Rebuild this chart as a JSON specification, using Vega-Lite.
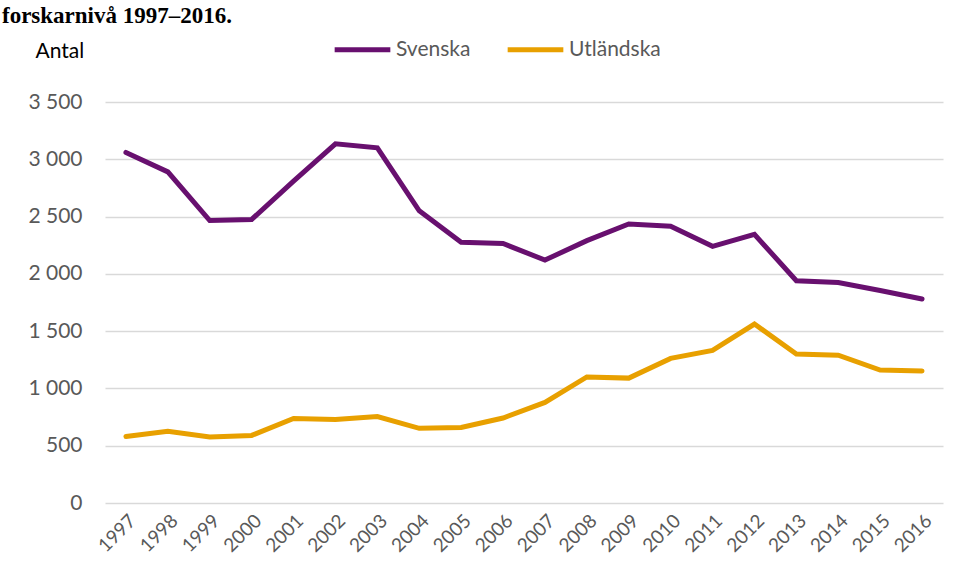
{
  "$schema": "https://vega.github.io/schema/vega-lite/v6.json",
  "width": 838,
  "height": 401,
  "autosize": {"type": "none"},
  "padding": {"left": 105, "top": 102, "right": 17, "bottom": 80},
  "background": "white",
  "title": {
    "text": "forskarnivå 1997–2016.",
    "anchor": "start",
    "frame": "group",
    "font": "Liberation Serif",
    "fontSize": 23,
    "fontWeight": "bold",
    "color": "black",
    "dx": -103,
    "dy": 27,
    "offset": 0,
    "baseline": "alphabetic"
  },
  "data": {
    "values": [
      {"year": "1997", "serie": "Svenska", "antal": 3060},
      {"year": "1998", "serie": "Svenska", "antal": 2890},
      {"year": "1999", "serie": "Svenska", "antal": 2465},
      {"year": "2000", "serie": "Svenska", "antal": 2475},
      {"year": "2001", "serie": "Svenska", "antal": 2810},
      {"year": "2002", "serie": "Svenska", "antal": 3135},
      {"year": "2003", "serie": "Svenska", "antal": 3100},
      {"year": "2004", "serie": "Svenska", "antal": 2550},
      {"year": "2005", "serie": "Svenska", "antal": 2275},
      {"year": "2006", "serie": "Svenska", "antal": 2265},
      {"year": "2007", "serie": "Svenska", "antal": 2120},
      {"year": "2008", "serie": "Svenska", "antal": 2290},
      {"year": "2009", "serie": "Svenska", "antal": 2435},
      {"year": "2010", "serie": "Svenska", "antal": 2415},
      {"year": "2011", "serie": "Svenska", "antal": 2240},
      {"year": "2012", "serie": "Svenska", "antal": 2345},
      {"year": "2013", "serie": "Svenska", "antal": 1940},
      {"year": "2014", "serie": "Svenska", "antal": 1925},
      {"year": "2015", "serie": "Svenska", "antal": 1855},
      {"year": "2016", "serie": "Svenska", "antal": 1780},
      {"year": "1997", "serie": "Utländska", "antal": 580},
      {"year": "1998", "serie": "Utländska", "antal": 625},
      {"year": "1999", "serie": "Utländska", "antal": 576},
      {"year": "2000", "serie": "Utländska", "antal": 590},
      {"year": "2001", "serie": "Utländska", "antal": 738},
      {"year": "2002", "serie": "Utländska", "antal": 728},
      {"year": "2003", "serie": "Utländska", "antal": 755},
      {"year": "2004", "serie": "Utländska", "antal": 652},
      {"year": "2005", "serie": "Utländska", "antal": 660},
      {"year": "2006", "serie": "Utländska", "antal": 742},
      {"year": "2007", "serie": "Utländska", "antal": 878},
      {"year": "2008", "serie": "Utländska", "antal": 1100},
      {"year": "2009", "serie": "Utländska", "antal": 1090},
      {"year": "2010", "serie": "Utländska", "antal": 1262},
      {"year": "2011", "serie": "Utländska", "antal": 1332},
      {"year": "2012", "serie": "Utländska", "antal": 1562},
      {"year": "2013", "serie": "Utländska", "antal": 1300},
      {"year": "2014", "serie": "Utländska", "antal": 1290},
      {"year": "2015", "serie": "Utländska", "antal": 1160},
      {"year": "2016", "serie": "Utländska", "antal": 1152}
    ]
  },
  "mark": {"type": "line", "strokeWidth": 5, "strokeCap": "round", "strokeJoin": "miter"},
  "encoding": {
    "x": {
      "field": "year",
      "type": "ordinal",
      "scale": {"type": "point", "padding": 0.5},
      "axis": {
        "title": null,
        "labelAngle": -45,
        "labelFont": "Lato",
        "labelFontSize": 19,
        "labelColor": "#595959",
        "ticks": false,
        "domain": false,
        "grid": false,
        "labelPadding": 8
      }
    },
    "y": {
      "field": "antal",
      "type": "quantitative",
      "scale": {"domain": [0, 3500], "nice": false},
      "axis": {
        "values": [0, 500, 1000, 1500, 2000, 2500, 3000, 3500],
        "format": ",d",
        "labelExpr": "replace(datum.label, ',', ' ')",
        "title": "Antal",
        "titleAngle": 0,
        "titleAlign": "left",
        "titleBaseline": "alphabetic",
        "titleX": -70,
        "titleY": -45,
        "titleFont": "Lato",
        "titleFontSize": 21,
        "titleFontWeight": "normal",
        "titleColor": "#000000",
        "labelFont": "Lato",
        "labelFontSize": 21,
        "labelColor": "#595959",
        "labelPadding": 23,
        "ticks": false,
        "domain": false,
        "gridColor": "#D9D9D9",
        "gridWidth": 1.5
      }
    },
    "color": {
      "field": "serie",
      "type": "nominal",
      "scale": {"domain": ["Svenska", "Utländska"], "range": ["#68106F", "#E8A000"]},
      "legend": {
        "title": null,
        "orient": "none",
        "direction": "horizontal",
        "legendX": 227,
        "legendY": -83,
        "symbolType": "stroke",
        "symbolSize": 3100,
        "symbolStrokeWidth": 5,
        "labelFont": "Lato",
        "labelFontSize": 21,
        "labelColor": "#595959",
        "labelOffset": 3,
        "columnPadding": 26
      }
    }
  },
  "config": {"view": {"stroke": null}}
}
